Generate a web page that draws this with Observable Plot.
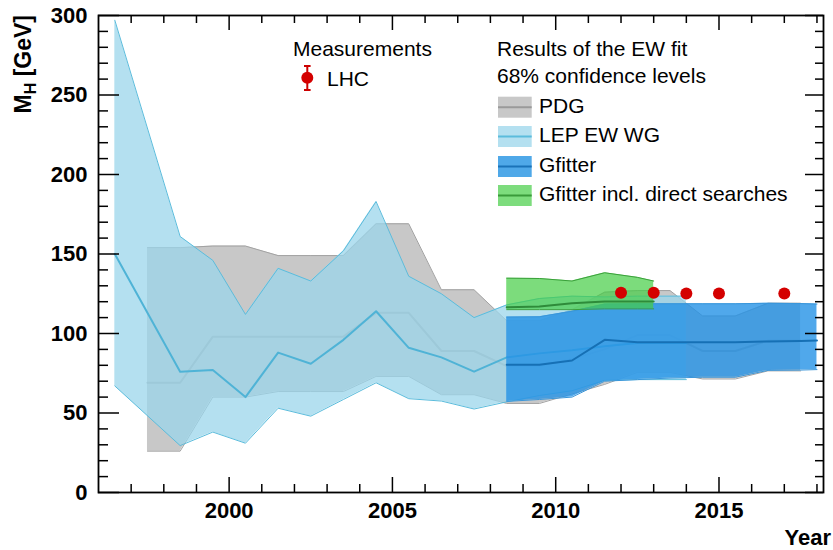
<!DOCTYPE html>
<html><head><meta charset="utf-8">
<script src="https://cdn.jsdelivr.net/npm/d3@7"></script>
<script src="https://cdn.jsdelivr.net/npm/@observablehq/plot@0.6"></script>
<style>
html,body{margin:0;padding:0;background:#fff;}
#chart{width:833px;height:550px;overflow:hidden;}
</style>
</head><body><div id="chart"></div>
<script>
// ---- data ----
const lepYears   = [1996.5,1998.5,1999.5,2000.5,2001.5,2002.5,2003.5,2004.5,2005.5,2006.5,2007.5,2008.5,2009.5,2010.5,2011.5,2012.5,2013.5,2014.0];
const lepCentral = [150,76,77,60,88,81,96,114,91,85,76,85,87.5,89.5,92,94,94,94];
const lepUpper   = [297,161,146,112,141,133,152,183,136,125,110,118,122,123.5,123,123.5,123.5,123.5];
const lepLower   = [67,29.5,38,31,53,48,58.5,69,59,57.5,52.5,57,61,64,70.5,71,71,71];

const pdgYears   = [1997.5,1998.5,1999.5,2000.5,2001.5,2002.5,2003.5,2004.5,2005.5,2006.5,2007.5,2008.5,2009.5,2010.5,2011.5,2012.5,2013.5,2014.5,2015.5,2016.5,2017.5];
const pdgCentral = [69,69,98,98,98,98,98,113,113,89,89,79.5,79.5,84,90,99,99,89,89,95.5,95.5];
const pdgUpper   = [154,154,155,155,149,149,149,169,169,127.5,127.5,108,108,115,126,127,127,111,111,119,119];
const pdgLower   = [26,26,60,60,63.5,63.5,63.5,73,73,61.5,61.5,56,56,62,68,75.5,75.5,71.4,71.4,76.5,76.5];

const gfitYears   = [2008.5,2009.5,2010.5,2011.5,2012.5,2013.5,2014.5,2015.5,2016.5,2017.5,2018.0];
const gfitCentral = [80.3,80.3,83,96,94.5,94.5,94.5,94.5,95,95.3,95.6];
const gfitUpper   = [110.3,110.5,114,118.5,118.7,118.7,118.7,118.7,119,118.8,118.5];
const gfitLower   = [57.3,58.5,60,70,71,72,72.5,72.5,76.8,77,77.3];

const directYears   = [2008.5,2009.5,2010.5,2011.5,2012.5,2013.0];
const directCentral = [116.5,117,119,120.2,120.2,120.2];
const directUpper   = [134.8,134.6,133,138.2,135.3,133];
const directLower   = [115,115,115,115.5,115.5,115.5];

const lhcYears = [2012,2013,2014,2015,2017];
const lhcMass  = [125.7,125.6,125.1,125.1,125.1];
const lhcErr   = [0.4,0.4,0.24,0.24,0.14];

const xTickLabels = [2000,2005,2010,2015];
const xMinorTicks = [1997,1998,1999,2001,2002,2003,2004,2006,2007,2008,2009,2011,2012,2013,2014,2016,2017,2018];
const yTickLabels = [0,50,100,150,200,250,300];
const yMinorTicks = [10,20,30,40,60,70,80,90,110,120,130,140,160,170,180,190,210,220,230,240,260,270,280,290];

// ---- tables ----
const band = (xs, c, hi, lo) => xs.map((x, i) => ({x, c: c[i], hi: hi[i], lo: lo[i]}));
const lep = band(lepYears, lepCentral, lepUpper, lepLower);
const pdg = band(pdgYears, pdgCentral, pdgUpper, pdgLower);
const gfit = band(gfitYears, gfitCentral, gfitUpper, gfitLower);
const direct = band(directYears, directCentral, directUpper, directLower);
const lhc = lhcYears.map((x, i) => ({x, m: lhcMass[i], e: lhcErr[i]}));

const W = 833, H = 550, mL = 98, mR = 10, mT = 15, mB = 58;
const innerW = W - mL - mR, innerH = H - mT - mB;

function bandMarks(data, fill, opacity, edge, center, edgeW) {
  return [
    Plot.areaY(data, {x: "x", y1: "lo", y2: "hi", fill, fillOpacity: opacity}),
    Plot.lineY(data, {x: "x", y: "hi", stroke: edge, strokeWidth: edgeW}),
    Plot.lineY(data, {x: "x", y: "lo", stroke: edge, strokeWidth: edgeW}),
    Plot.lineY(data, {x: "x", y: "c", stroke: center, strokeWidth: 2})
  ];
}

const chart = Plot.plot({
  width: W, height: H,
  marginLeft: mL, marginRight: mR, marginTop: mT, marginBottom: mB,
  style: {fontFamily: "'Liberation Sans', Arial, Helvetica, sans-serif", background: "white", color: "black"},
  x: {domain: [1996, 2018.2]},
  y: {domain: [0, 300]},
  marks: [
    ...bandMarks(pdg, "#c8c8c8", 1, "#a2a2a2", "#a2a2a2", 1),
    ...bandMarks(lep, "#9bd6eb", 0.75, "#5bbcdc", "#4fb3d6", 1),
    ...bandMarks(gfit, "#2492e6", 0.8, "#3a96da", "#1670b5", 1),
    ...bandMarks(direct, "#45cd45", 0.7, "#3aa03a", "#2e8b3a", 1),
    Plot.ruleX(lhc, {x: "x", y1: d => d.m - d.e, y2: d => d.m + d.e, stroke: "#cc0000", strokeWidth: 2}),
    Plot.dot(lhc, {x: "x", y: "m", r: 6, fill: "#d40000", stroke: "none"}),
    // inward ticks on all four sides
    Plot.tickX(xTickLabels, {x: d => d, insetTop: innerH - 15, stroke: "black", strokeWidth: 1.5}),
    Plot.tickX(xMinorTicks, {x: d => d, insetTop: innerH - 8, stroke: "black", strokeWidth: 1.5}),
    Plot.tickX(xTickLabels, {x: d => d, insetBottom: innerH - 15, stroke: "black", strokeWidth: 1.5}),
    Plot.tickX(xMinorTicks, {x: d => d, insetBottom: innerH - 8, stroke: "black", strokeWidth: 1.5}),
    Plot.tickY(yTickLabels, {y: d => d, insetRight: innerW - 21, stroke: "black", strokeWidth: 1.5}),
    Plot.tickY(yMinorTicks, {y: d => d, insetRight: innerW - 10, stroke: "black", strokeWidth: 1.5}),
    Plot.tickY(yTickLabels, {y: d => d, insetLeft: innerW - 18, stroke: "black", strokeWidth: 1.5}),
    Plot.tickY(yMinorTicks, {y: d => d, insetLeft: innerW - 8, stroke: "black", strokeWidth: 1.5}),
    Plot.axisX(xTickLabels, {tickSize: 0, tickPadding: 10, tickFormat: d => String(d), fontSize: 22, fontWeight: "bold", label: null}),
    Plot.axisY(yTickLabels, {tickSize: 0, tickPadding: 11, fontSize: 22, fontWeight: "bold", label: null}),
    Plot.frame({stroke: "black", strokeWidth: 1.8})
  ]
});
document.getElementById("chart").appendChild(chart);

// ---- axis titles and legend ----
const svg = d3.select(chart);
const font = "'Liberation Sans', Arial, Helvetica, sans-serif";
const yl = svg.append("text")
  .attr("transform", "translate(31,15) rotate(-90)")
  .attr("text-anchor", "end").attr("font-family", font)
  .attr("font-size", 23).attr("font-weight", "bold").attr("fill", "black");
yl.append("tspan").text("M");
yl.append("tspan").attr("dy", 5).attr("font-size", 16).text("H");
yl.append("tspan").attr("dy", -5).text(" [GeV]");

svg.append("text").attr("x", 831).attr("y", 545).attr("text-anchor", "end")
  .attr("font-family", font).attr("font-size", 22).attr("font-weight", "bold").text("Year");

const lg = svg.append("g").attr("font-family", font).attr("font-size", 21)
  .attr("fill", "black").attr("text-anchor", "start");
lg.append("text").attr("x", 293).attr("y", 56).text("Measurements");
lg.append("line").attr("x1", 307.3).attr("x2", 307.3).attr("y1", 66).attr("y2", 90).attr("stroke", "#cc0000").attr("stroke-width", 2);
lg.append("line").attr("x1", 304).attr("x2", 310.6).attr("y1", 66).attr("y2", 66).attr("stroke", "#cc0000").attr("stroke-width", 2);
lg.append("line").attr("x1", 304).attr("x2", 310.6).attr("y1", 90).attr("y2", 90).attr("stroke", "#cc0000").attr("stroke-width", 2);
lg.append("circle").attr("cx", 307.3).attr("cy", 77.7).attr("r", 6).attr("fill", "#d40000");
lg.append("text").attr("x", 327).attr("y", 86).text("LHC");

lg.append("text").attr("x", 497).attr("y", 56).text("Results of the EW fit");
lg.append("text").attr("x", 497).attr("y", 83).text("68% confidence levels");
const entries = [
  {label: "PDG", fill: "#c8c8c8", line: "#9a9a9a", y: 96.7},
  {label: "LEP EW WG", fill: "#b4e0f0", line: "#5bbcdc", y: 126},
  {label: "Gfitter", fill: "#4fa8e8", line: "#1a72b8", y: 156},
  {label: "Gfitter incl. direct searches", fill: "#7ddc7d", line: "#3a9a3a", y: 185}
];
entries.forEach(e => {
  lg.append("rect").attr("x", 498).attr("y", e.y).attr("width", 33.7).attr("height", 21).attr("fill", e.fill);
  lg.append("line").attr("x1", 498).attr("x2", 531.7).attr("y1", e.y + 10.5).attr("y2", e.y + 10.5).attr("stroke", e.line).attr("stroke-width", 2);
  lg.append("text").attr("x", 539).attr("y", e.y + 16).text(e.label);
});
</script></body></html>
